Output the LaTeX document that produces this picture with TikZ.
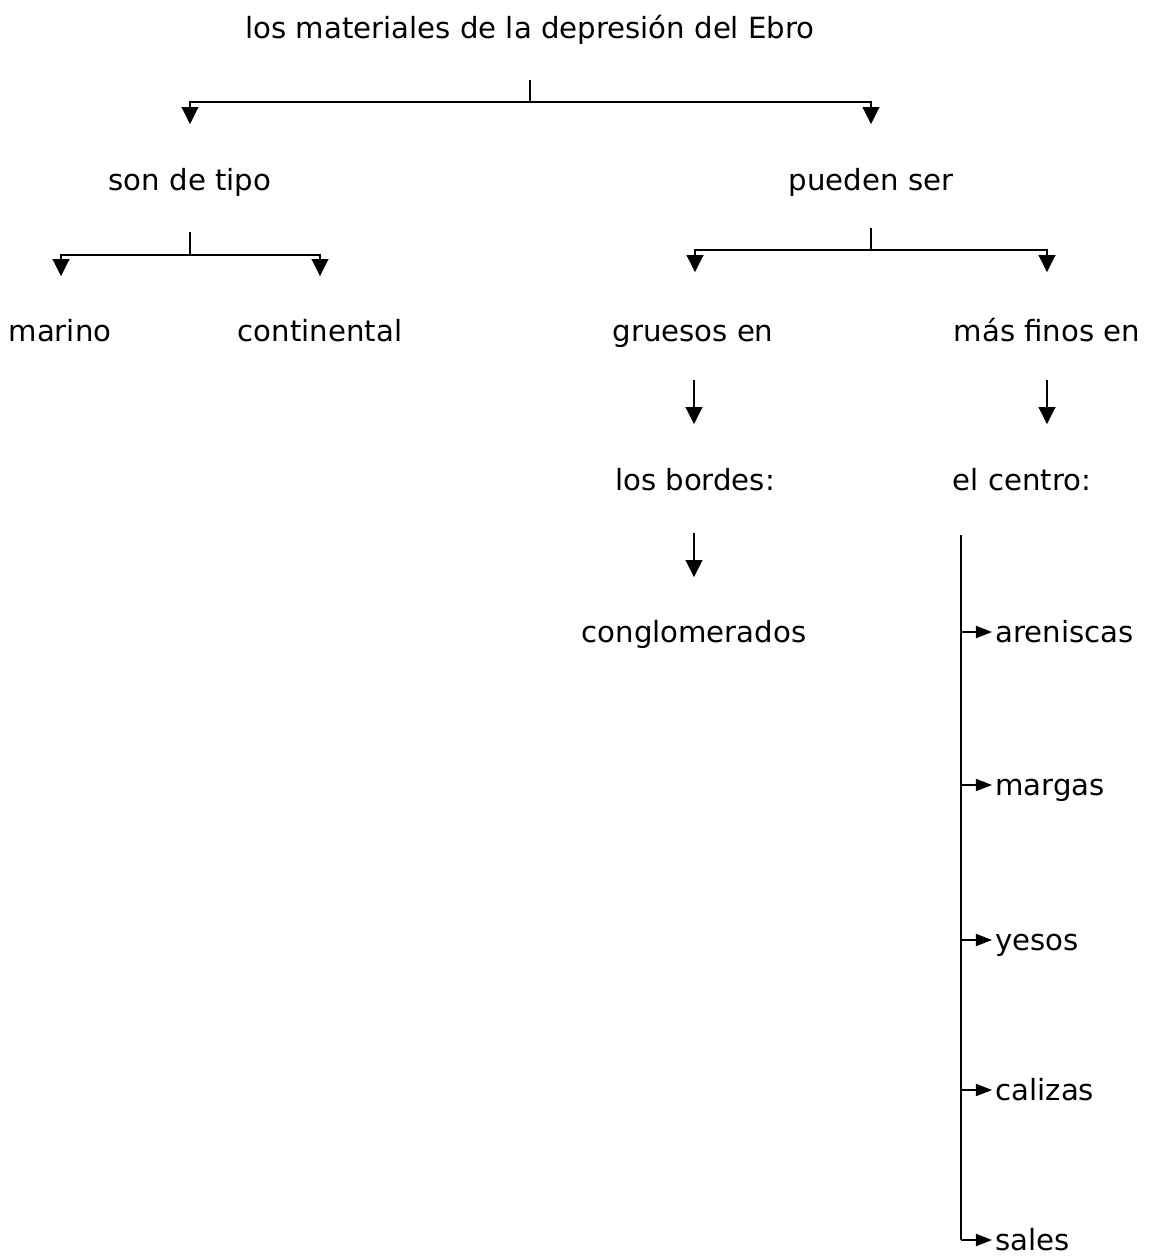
\documentclass[tikz,border=0pt]{standalone}
\usepackage{fontspec}
\setmainfont{DejaVu Sans}
\usetikzlibrary{arrows.meta}
\tikzset{
  lbl/.style={anchor=base,inner sep=0pt,font=\fontsize{8.3}{10}\selectfont},
  leaf/.style={lbl,anchor=west,text height=1.1ex,text depth=0pt,outer sep=1pt},
  tip/.style={-{Triangle[width=4.8pt,length=4.8pt]},line width=0.3pt},
  leaftip/.style={-{Triangle[width=3.5pt,length=4.6pt]},line width=0.3pt},
  stub/.style={line width=0.3pt}
}

\begin{document}
\begin{tikzpicture}[x=0.01cm,y=-0.01cm]
\useasboundingbox (0,0) rectangle (1152,1256);
% texts
\node[lbl] (ebro) at (530,38) {los materiales de la depresión del Ebro};
\node[lbl] (tipo) at (190,190) {son de tipo};
\node[lbl] (ser) at (871,190) {pueden ser};
\node[lbl] (marino) at (60,341) {marino};
\node[lbl] (cont) at (320,341) {continental};
\node[lbl] (gruesos) at (693,341) {gruesos en};
\node[lbl] (finos) at (1047,341) {más finos en};
\node[lbl] (bordes) at (695,490) {los bordes:};
\node[lbl] (centro) at (1022,490) {el centro:};
\node[lbl] (cong) at (694,642) {conglomerados};
\node[leaf] (aren) at (992,632) {areniscas};
\node[leaf] (margas) at (992,785) {margas};
\node[leaf] (yesos) at (992,940) {yesos};
\node[leaf] (calizas) at (992,1090) {calizas};
\node[leaf] (sales) at (992,1240) {sales};

% joints
\coordinate (ebro-s) at (530,80);
\coordinate (ebro-j) at (530,102);
\coordinate (tipo-in) at (190,124);
\coordinate (ser-in) at (871,124);
\coordinate (tipo-s) at (190,232);
\coordinate (tipo-j) at (190,255);
\coordinate (marino-in) at (61,276);
\coordinate (cont-in) at (320,276);
\coordinate (ser-s) at (871,228);
\coordinate (ser-j) at (871,250);
\coordinate (gruesos-in) at (695,272);
\coordinate (finos-in) at (1047,272);
\coordinate (gruesos-s) at (694,380);
\coordinate (bordes-in) at (694,424);
\coordinate (finos-s) at (1047,380);
\coordinate (centro-in) at (1047,424);
\coordinate (bordes-s) at (694,533);
\coordinate (cong-in) at (694,577);
\coordinate (centro-s) at (961,535);
\coordinate (centro-e) at (961,1240);

% connectors
\draw[stub] (ebro-s) -- (ebro-j);
\draw[tip] (ebro-j) -| (tipo-in);
\draw[tip] (ebro-j) -| (ser-in);
\draw[stub] (tipo-s) -- (tipo-j);
\draw[tip] (tipo-j) -| (marino-in);
\draw[tip] (tipo-j) -| (cont-in);
\draw[stub] (ser-s) -- (ser-j);
\draw[tip] (ser-j) -| (gruesos-in);
\draw[tip] (ser-j) -| (finos-in);
\draw[tip] (gruesos-s) -- (bordes-in);
\draw[tip] (finos-s) -- (centro-in);
\draw[tip] (bordes-s) -- (cong-in);
\draw[stub] (centro-s) -- (centro-e);
\foreach \n in {aren,margas,yesos,calizas,sales}
  \draw[leaftip] (centro-s |- \n.west) -- (\n.west);
\end{tikzpicture}
\end{document}
